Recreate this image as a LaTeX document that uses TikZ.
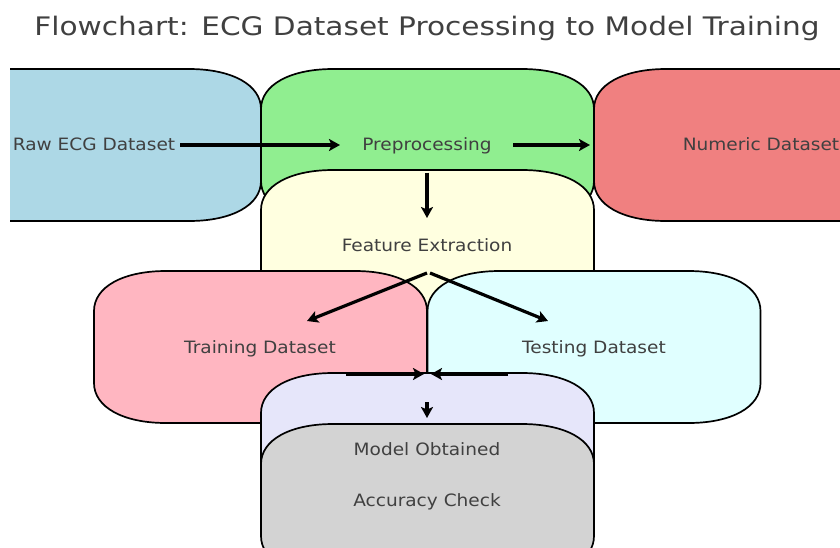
\documentclass[tikz,border=0pt]{standalone}
\usepackage{fontspec}
\setmainfont{DejaVu Sans}
\usetikzlibrary{arrows.meta,calc}

\definecolor{txtgray}{HTML}{404040}
\definecolor{cRaw}{HTML}{ADD8E6}
\definecolor{cPre}{HTML}{90EE90}
\definecolor{cNum}{HTML}{F08080}
\definecolor{cFeat}{HTML}{FFFFE0}
\definecolor{cTrain}{HTML}{FFB6C1}
\definecolor{cTest}{HTML}{E0FFFF}
\definecolor{cModel}{HTML}{E6E6FA}
\definecolor{cAcc}{HTML}{D3D3D3}

% box with elliptical corners, centred at (#1,#2), filled with #3
\newcommand\flowbox[3]{%
  \begin{scope}[shift={(#1,#2)}]
    \filldraw[boxline, fill=#3]
      (-94.5,-76) -- (94.5,-76)
      .. controls (137.7,-76) and (166.5,-60) .. (166.5,-36)
      -- (166.5,36)
      .. controls (166.5,60) and (137.7,76) .. (94.5,76)
      -- (-94.5,76)
      .. controls (-137.7,76) and (-166.5,60) .. (-166.5,36)
      -- (-166.5,-36)
      .. controls (-166.5,-60) and (-137.7,-76) .. cycle;
  \end{scope}}

\begin{document}
\begin{tikzpicture}[x=1pt,y=-1pt,
  boxline/.style={draw=black, line width=1.7pt},
  lbl/.style={text=txtgray, font=\fontsize{17}{20}\selectfont, inner sep=0pt,
    text height=12.4pt, text depth=0pt, xscale=1.09},
  arr/.style={-{Stealth[length=11pt,width=12pt,inset=2.5pt]}, line width=3.2pt, black}]
  \useasboundingbox (0,0) rectangle (840,547);

  \begin{scope}
    \clip (10,0) rectangle (840,547);
    \flowbox{94.5}{145}{cRaw}
    \flowbox{427.5}{145}{cPre}
    \flowbox{760.5}{145}{cNum}
    \flowbox{427.5}{246}{cFeat}
    \flowbox{260.5}{347}{cTrain}
    \flowbox{594}{347}{cTest}
    \flowbox{427.5}{449}{cModel}
    \flowbox{427.5}{500}{cAcc}
  \end{scope}

  \node[text=txtgray, font=\fontsize{25.5}{30}\selectfont, inner sep=0pt,
    text height=18.6pt, text depth=0pt, xscale=1.16] (title) at (427,26)
    {Flowchart: ECG Dataset Processing to Model Training};

  \node[lbl] (raw)   at (94,144.5)  {Raw ECG Dataset};
  \node[lbl] (pre)   at (427,144.5) {Preprocessing};
  \node[lbl] (num)   at (761,144.5) {Numeric Dataset};
  \node[lbl] (feat)  at (427,245.5) {Feature Extraction};
  \node[lbl] (train) at (260,347) {Training Dataset};
  \node[lbl] (test)  at (594,347) {Testing Dataset};
  \node[lbl] (model) at (427,449) {Model Obtained};
  \node[lbl] (acc)   at (427,500) {Accuracy Check};

  \draw[arr] ($(raw)+(86,0.5)$) -- ($(pre)+(-87,0.5)$);
  \draw[arr] ($(pre)+(86,0.5)$) -- ($(num)+(-171,0.5)$);
  \draw[arr] ($(pre)+(0,28)$) -- ($(feat)+(0,-27.5)$);
  \draw[arr] ($(feat)+(0,27.5)$) -- ($(train)+(47,-26)$);
  \draw[arr] ($(feat)+(3,27.5)$) -- ($(test)+(-46,-26)$);
  \draw[arr] ($(train)+(86,27)$) -- ($(model)+(-3,-75)$);
  \draw[arr] ($(test)+(-86,27)$) -- ($(model)+(4,-75)$);
  \draw[arr] ($(model)+(0,-47)$) -- ($(model)+(0,-31)$);
\end{tikzpicture}
\end{document}
